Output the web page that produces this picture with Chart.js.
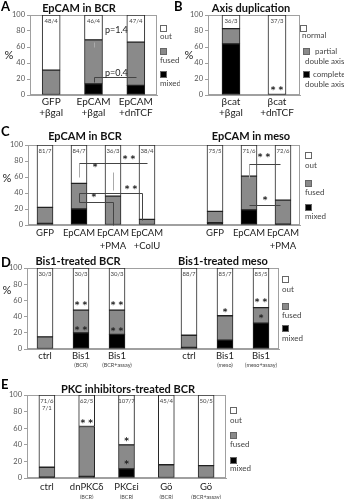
<!DOCTYPE html>
<html>
<head>
<meta charset="utf-8">
<script src="https://cdn.jsdelivr.net/npm/chart.js@4.4.1/dist/chart.umd.min.js"></script>
<style>
  body { margin: 0; background: #fff; }
  #fig { position: relative; width: 344px; height: 499px; overflow: hidden; }
  canvas { position: absolute; }
</style>
</head>
<body>
<div id="fig">
  <canvas id="panelA" width="180" height="125" style="left:0;top:0"></canvas>
  <canvas id="panelB" width="172" height="125" style="left:172px;top:0"></canvas>
  <canvas id="panelC" width="344" height="130" style="left:0;top:125px"></canvas>
  <canvas id="panelD" width="344" height="120" style="left:0;top:255px"></canvas>
  <canvas id="panelE" width="344" height="124" style="left:0;top:375px"></canvas>
</div>
<script>
// ---- data ----
// A: EpCAM in BCR
const aCategories = [['GFP', '+βgal'], ['EpCAM', '+βgal'], ['EpCAM', '+dnTCF']];
const aMixed = [0, 14, 12];
const aFused = [31, 55, 54];
const aOut = [69, 31, 34];
const aCounts = ['48/4', '46/4', '47/4'];

// B: Axis duplication
const bCategories = [['βcat', '+βgal'], ['βcat', '+dnTCF']];
const bComplete = [64, 0];
const bPartial = [19, 0];
const bNormal = [17, 100];
const bCounts = ['36/3', '37/3'];

// C: EpCAM in BCR / in meso (index 4 is the gap between the two groups)
const cCategories = [['GFP'], ['EpCAM'], ['EpCAM', '+PMA'], ['EpCAM', '+ColU'], [], ['GFP'], ['EpCAM'], ['EpCAM', '+PMA']];
const cMixed = [2, 20, 0, 0, null, 3, 19, 1];
const cFused = [20, 32, 36, 7, null, 14, 42, 30];
const cOut = [78, 48, 64, 93, null, 83, 39, 69];
const cCounts = ['81/7', '84/7', '36/3', '38/4', '', '75/5', '71/6', '72/6'];

// D: Bis1-treated BCR / meso
const dCategories = [['ctrl'], ['Bis1'], ['Bis1'], [], ['ctrl'], ['Bis1'], ['Bis1']];
const dNotes = ['', '(BCR)', '(BCR+assay)', '', '', '(meso)', '(meso+assay)'];
const dMixed = [0, 20, 18, null, 2, 11, 32];
const dFused = [15, 28, 30, null, 15, 30, 19];
const dOut = [85, 52, 52, null, 83, 59, 49];
const dCounts = ['30/3', '30/3', '30/3', '', '88/7', '85/7', '85/5'];

// E: PKC inhibitors-treated BCR
const eCategories = [['ctrl'], ['dnPKCδ'], ['PKCεi'], ['Gö'], ['Gö']];
const eNotes = ['', '(BCR)', '(BCR)', '(BCR)', '(BCR+assay)'];
const eMixed = [1, 2, 11, 0, 0];
const eFused = [12, 60, 29, 16, 15];
const eOut = [87, 38, 60, 84, 85];
const eCounts = [['71/6', '7/1'], '62/5', '107/7', '45/4', '50/5'];

const yTicks = [0, 20, 40, 60, 80, 100];

// significance marks, placed in data space: c = category index, v = percent
const aMarks = [
  { c: 1.27, v: 81, t: 'p=1.4', align: 'left', size: 9 },
  { c: 1.27, v: 28, t: 'p=0.4', align: 'left', size: 9 }
];
const aPaths = [
  { pts: [[1, 60], [1, 66]], color: '#aaa' },
  { pts: [[1, 16], [1, 22.5], [2, 22.5]], color: '#444' }
];
const bMarks = [{ c: 1, v: 5, t: '* *' }];
const cMarks = [
  { c: 2.47, v: 82, t: '* *' }, { c: 1.47, v: 72, t: '*' },
  { c: 2.53, v: 44, t: '* *' }, { c: 1.44, v: 34, t: '*' },
  { c: 6.44, v: 84, t: '* *' }, { c: 6.47, v: 31, t: '*' }
];
const cPaths = [
  { pts: [[1, 60], [1, 77.5]], color: '#aaa' },
  { pts: [[1, 77.5], [3, 77.5]], color: '#444' },
  { pts: [[2, 44], [2, 66]], color: '#aaa' },
  { pts: [[1, 29], [1, 40], [2.85, 40], [2.85, 6]], color: '#444' },
  { pts: [[1, 29], [2, 29], [2, 0]], color: '#444' },
  { pts: [[6, 59], [6, 76]], color: '#aaa' },
  { pts: [[6, 76], [6.9, 76]], color: '#444' },
  { pts: [[6, 25], [6.9, 25]], color: '#444' }
];
const dMarks = [
  { c: 1, v: 53, t: '* *' }, { c: 1, v: 23, t: '* *' },
  { c: 2, v: 53, t: '* *' }, { c: 2, v: 22, t: '* *' },
  { c: 5, v: 45, t: '*' }, { c: 6, v: 57, t: '* *' }, { c: 6, v: 38, t: '*' }
];
const eMarks = [
  { c: 1, v: 66, t: '* *' }, { c: 2, v: 44, t: '*' }, { c: 2, v: 16, t: '*' }
];

// ---- drawing ----
const FONT = 'Lato, "Open Sans", "Liberation Sans", sans-serif';
const STAR = '"DejaVu Sans", sans-serif';
const colors = { mixed: '#000000', fused: '#8a8a8a', out: '#ffffff', frame: '#a0a0a0', text: '#222222', soft: '#444444' };

function text(ctx, s, x, y, font, color, align, base) {
  ctx.font = font;
  ctx.fillStyle = color;
  ctx.textAlign = align || 'center';
  ctx.textBaseline = base || 'middle';
  ctx.fillText(s, x, y);
}

const figurePlugin = {
  id: 'figure',
  beforeDatasetsDraw: function (chart) {
    const a = chart.chartArea;
    const ctx = chart.ctx;
    ctx.save();
    ctx.strokeStyle = colors.frame;
    ctx.lineWidth = 1;
    ctx.strokeRect(Math.round(a.left) + 0.5, Math.round(a.top) + 0.5,
      Math.round(a.right - a.left) - 1, Math.round(a.bottom - a.top) - 1);
    ctx.restore();
  },
  afterDraw: function (chart, args, o) {
    const ctx = chart.ctx;
    const a = chart.chartArea;
    const xs = chart.scales.x;
    const ys = chart.scales.y;
    ctx.save();

    text(ctx, o.letter[0], o.letter[1], o.letter[2], 'bold 13px ' + FONT, '#000', 'left', 'top');
    o.titles.forEach(function (t) {
      text(ctx, t[0], t[1], t[2], 'bold 11px ' + FONT, '#111');
    });
    if (o.percent) {
      text(ctx, '%', o.percent[0], o.percent[1], '11px ' + FONT, colors.text);
    }

    o.labels.forEach(function (lines, i) {
      lines.forEach(function (s, k) {
        text(ctx, s, xs.getPixelForValue(i), a.bottom + o.labelY + k * o.lineGap, o.labelSize + 'px ' + FONT, colors.text);
      });
    });
    (o.notes || []).forEach(function (s, i) {
      if (s) text(ctx, s, xs.getPixelForValue(i), a.bottom + o.noteY, '5.5px ' + FONT, colors.soft);
    });
    o.counts.forEach(function (s, i) {
      [].concat(s).forEach(function (line, k) {
        if (line) text(ctx, line, xs.getPixelForValue(i), a.top + 3 + k * 7, '6px ' + FONT, colors.soft, 'center', 'top');
      });
    });

    (o.paths || []).forEach(function (p) {
      ctx.beginPath();
      p.pts.forEach(function (pt, k) {
        const X = Math.round(xs.getPixelForValue(pt[0])) + 0.5;
        const Y = Math.round(ys.getPixelForValue(pt[1])) + 0.5;
        if (k) ctx.lineTo(X, Y); else ctx.moveTo(X, Y);
      });
      ctx.strokeStyle = p.color;
      ctx.lineWidth = 1;
      ctx.stroke();
    });
    (o.marks || []).forEach(function (m) {
      const font = m.size ? m.size + 'px ' + FONT : 'bold 9px ' + STAR;
      text(ctx, m.t, xs.getPixelForValue(m.c), ys.getPixelForValue(m.v), font, colors.text, m.align || 'center');
    });

    o.legend.forEach(function (it) {
      ctx.fillStyle = it.color;
      ctx.fillRect(it.box[0], it.box[1], 7, 7);
      ctx.strokeStyle = '#666';
      ctx.lineWidth = 1;
      ctx.strokeRect(it.box[0] + 0.5, it.box[1] + 0.5, 6, 6);
      it.lines.forEach(function (l) {
        text(ctx, l[0], l[1], l[2], '8px ' + FONT, colors.soft, 'left', 'top');
      });
    });
    ctx.restore();
  }
};

function stackedPanel(id, series, geo, fig) {
  const names = series.names;
  const fills = [colors.mixed, colors.fused, colors.out];
  const canvas = document.getElementById(id);
  return new Chart(canvas, {
    type: 'bar',
    data: {
      labels: fig.labels.map(function (l) { return l.join(' '); }),
      datasets: series.values.map(function (vals, k) {
        return {
          label: names[k],
          data: vals,
          backgroundColor: fills[k],
          borderColor: '#222',
          borderWidth: 1,
          borderSkipped: false,
          barThickness: geo.bar,
          categoryPercentage: 1
        };
      })
    },
    options: {
      responsive: false,
      animation: false,
      events: [],
      layout: { padding: { left: 0, top: geo.top, right: canvas.width - geo.right, bottom: 0 } },
      plugins: {
        legend: { display: false },
        tooltip: { enabled: false },
        figure: fig
      },
      scales: {
        x: {
          stacked: true,
          grid: { display: false },
          border: { display: true, color: colors.frame },
          ticks: { display: false },
          afterFit: function (s) { s.height = canvas.height - geo.bottom; }
        },
        y: {
          stacked: true,
          min: 0,
          max: 100,
          afterBuildTicks: function (s) { s.ticks = yTicks.map(function (v) { return { value: v }; }); },
          ticks: { font: { size: 7.5, family: FONT }, color: '#555', padding: 2 },
          grid: { drawOnChartArea: false, tickLength: 3, color: colors.frame },
          border: { color: colors.frame },
          afterFit: function (s) { s.width = geo.left; }
        }
      }
    },
    plugins: [figurePlugin]
  });
}

const threeNames = ['mixed', 'fused', 'out'];

stackedPanel('panelA',
  { names: threeNames, values: [aMixed, aFused, aOut] },
  { left: 30, right: 157, top: 15, bottom: 95, bar: 18 },
  {
    letter: ['A', 1, 0], titles: [['EpCAM in BCR', 79, 8]], percent: [9, 55],
    labels: aCategories, labelY: 7, lineGap: 11, labelSize: 10, counts: aCounts,
    marks: aMarks, paths: aPaths,
    legend: [
      { color: colors.out, box: [160, 25], lines: [['out', 160, 32]] },
      { color: colors.fused, box: [160, 48], lines: [['fused', 160, 56]] },
      { color: colors.mixed, box: [160, 71], lines: [['mixed', 160, 79]] }
    ]
  });

stackedPanel('panelB',
  { names: ['complete double axis', 'partial double axis', 'normal'], values: [bComplete, bPartial, bNormal] },
  { left: 36, right: 128, top: 15, bottom: 95, bar: 18 },
  {
    letter: ['B', 2, 0], titles: [['Axis duplication', 79, 8]], percent: [17, 55],
    labels: bCategories, labelY: 7, lineGap: 11, labelSize: 10, counts: bCounts,
    marks: bMarks,
    legend: [
      { color: colors.out, box: [128, 25], lines: [['normal', 130, 31]] },
      { color: colors.fused, box: [131, 48], lines: [['partial', 143, 47], ['double axis', 133, 57]] },
      { color: colors.mixed, box: [131, 71], lines: [['complete', 141, 70], ['double axis', 133, 80]] }
    ]
  });

stackedPanel('panelC',
  { names: threeNames, values: [cMixed, cFused, cOut] },
  { left: 28, right: 300, top: 20, bottom: 100, bar: 16 },
  {
    letter: ['C', 1, 0], titles: [['EpCAM in BCR', 85, 11], ['EpCAM in meso', 251, 11]], percent: [7, 53],
    labels: cCategories, labelY: 8, lineGap: 12.5, labelSize: 9.5, counts: cCounts,
    marks: cMarks, paths: cPaths,
    legend: [
      { color: colors.out, box: [305, 27], lines: [['out', 305, 36]] },
      { color: colors.fused, box: [305, 55], lines: [['fused', 305, 63]] },
      { color: colors.mixed, box: [305, 79], lines: [['mixed', 305, 87]] }
    ]
  });

stackedPanel('panelD',
  { names: threeNames, values: [dMixed, dFused, dOut] },
  { left: 27, right: 279, top: 13, bottom: 94, bar: 16 },
  {
    letter: ['D', 1, 1], titles: [['Bis1-treated BCR', 78, 6], ['Bis1-treated meso', 223, 6]], percent: [7, 35],
    labels: dCategories, labelY: 7, lineGap: 11, labelSize: 9.5, notes: dNotes, noteY: 16,
    counts: dCounts, marks: dMarks,
    legend: [
      { color: colors.out, box: [282, 21], lines: [['out', 282, 30]] },
      { color: colors.fused, box: [282, 48], lines: [['fused', 282, 56]] },
      { color: colors.mixed, box: [282, 70], lines: [['mixed', 282, 79]] }
    ]
  });

stackedPanel('panelE',
  { names: threeNames, values: [eMixed, eFused, eOut] },
  { left: 27, right: 226, top: 20, bottom: 103, bar: 16 },
  {
    letter: ['E', 1, 3], titles: [['PKC inhibitors-treated BCR', 128, 14]],
    labels: eCategories, labelY: 9, lineGap: 11, labelSize: 9.5, notes: eNotes, noteY: 19,
    counts: eCounts, marks: eMarks,
    legend: [
      { color: colors.out, box: [230, 32], lines: [['out', 230, 41]] },
      { color: colors.fused, box: [230, 57], lines: [['fused', 230, 65]] },
      { color: colors.mixed, box: [230, 82], lines: [['mixed', 230, 89]] }
    ]
  });
</script>
</body>
</html>
